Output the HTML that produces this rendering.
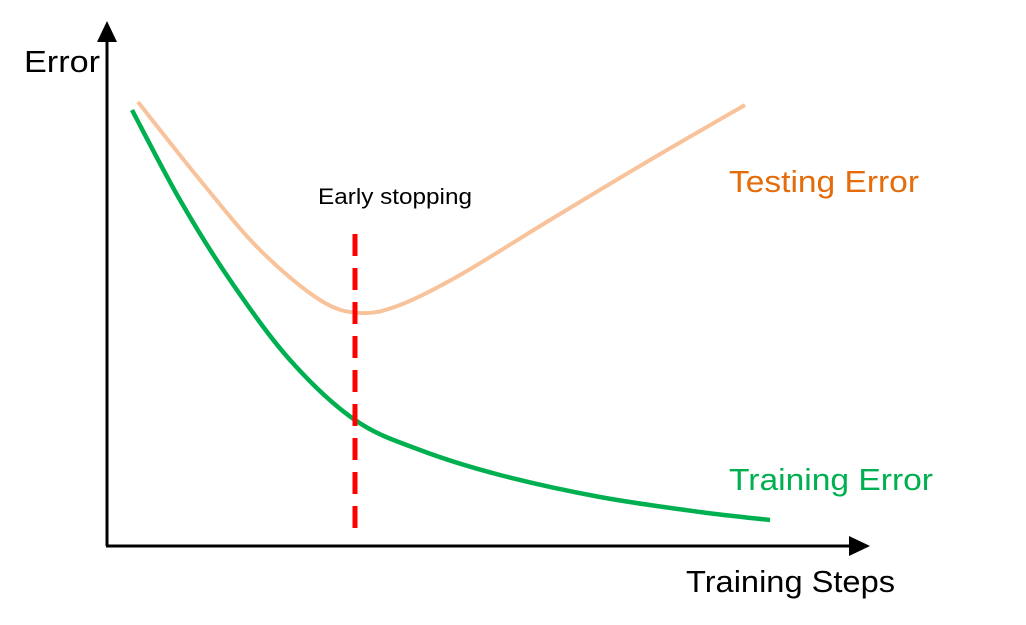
<!DOCTYPE html>
<html><head><meta charset="utf-8"><style>
html,body{margin:0;padding:0;background:#fff;width:1026px;height:625px;overflow:hidden}
text{font-family:"Liberation Sans",sans-serif}
</style></head><body>
<svg id="chart" width="1026" height="625" viewBox="0 0 1026 625" xmlns="http://www.w3.org/2000/svg">
<line x1="107" y1="546" x2="107" y2="40" stroke="#000" stroke-width="3"/>
<polygon points="97,42 117,42 107,21" fill="#000"/>
<line x1="106" y1="546" x2="851" y2="546" stroke="#000" stroke-width="3"/>
<polygon points="849,536 849,556 870,546" fill="#000"/>
<text x="24" y="72" font-size="31" textLength="76" lengthAdjust="spacingAndGlyphs">Error</text>
<text x="686" y="592" font-size="31" textLength="209" lengthAdjust="spacingAndGlyphs">Training Steps</text>
<text x="729" y="192" font-size="31" fill="#e46c0a" textLength="190" lengthAdjust="spacingAndGlyphs">Testing Error</text>
<text x="729" y="490" font-size="31" fill="#00b050" textLength="204" lengthAdjust="spacingAndGlyphs">Training Error</text>
<text x="318" y="204" font-size="22" textLength="154" lengthAdjust="spacingAndGlyphs">Early stopping</text>
<g id="marks"></g>
</svg>
<script>
const trainX=[25,73,123,183,248,313,393,493,593,663];
const trainY=[435,345,265,185,125,95,70,48,33,25];
const testX=[31,93,153,213,253,293,353,443,543,638];
const testY=[443,365,295,245,232,240,270,325,385,440];
const stopX=[248];
const stopRange=[10,311];
function sx(v){return 107+v;}
function sy(v){return 545-v;}
function smooth(xs,ys){
  const p=xs.map((x,i)=>[sx(x),sy(ys[i])]);
  let d='M'+p[0][0]+','+p[0][1];
  for(let i=0;i<p.length-1;i++){
    const p0=p[i-1]||p[i],p1=p[i],p2=p[i+1],p3=p[i+2]||p2;
    const c1=[p1[0]+(p2[0]-p0[0])/6,p1[1]+(p2[1]-p0[1])/6];
    const c2=[p2[0]-(p3[0]-p1[0])/6,p2[1]-(p3[1]-p1[1])/6];
    d+=' C'+c1[0]+','+c1[1]+' '+c2[0]+','+c2[1]+' '+p2[0]+','+p2[1];
  }
  return d;
}
const NS='http://www.w3.org/2000/svg';
const g=document.getElementById('marks');
const test=document.createElementNS(NS,'path');


test.setAttribute('d',smooth(testX,testY));
test.setAttribute('fill','none');test.setAttribute('stroke','#f8c39a');test.setAttribute('stroke-width','4');
g.appendChild(test);
const train=document.createElementNS(NS,'path');


train.setAttribute('d',smooth(trainX,trainY));
train.setAttribute('fill','none');train.setAttribute('stroke','#00b050');train.setAttribute('stroke-width','4.5');
g.appendChild(train);
const stop=document.createElementNS(NS,'line');


stop.setAttribute('x1',sx(stopX[0]));stop.setAttribute('x2',sx(stopX[0]));
stop.setAttribute('y1',sy(stopRange[1]));stop.setAttribute('y2',sy(stopRange[0]));
stop.setAttribute('stroke','#ff0000');stop.setAttribute('stroke-width','5');
stop.setAttribute('stroke-dasharray','22,12');
g.appendChild(stop);
</script>
</body></html>
